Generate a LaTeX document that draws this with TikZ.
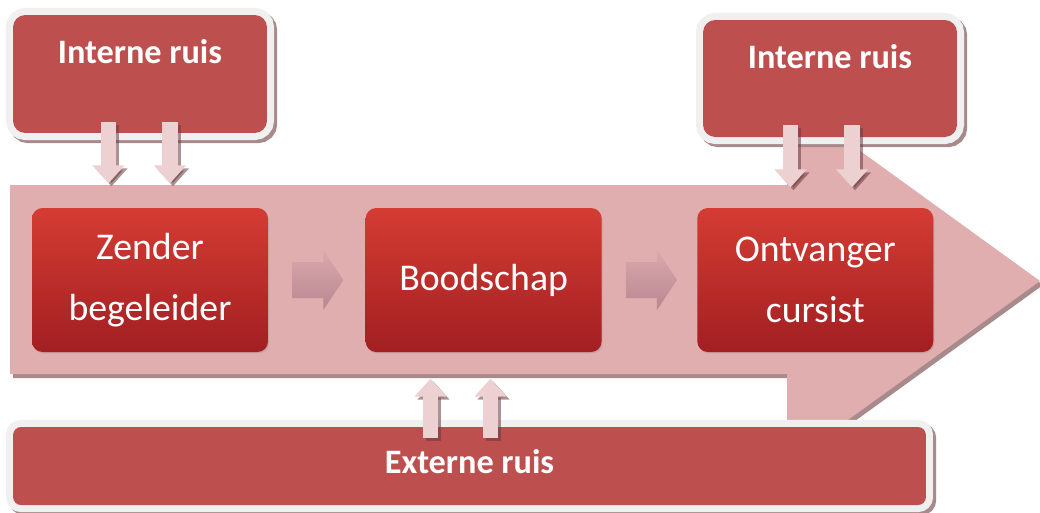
\documentclass[tikz,border=0pt]{standalone}
\usepackage{fontspec}
\setmainfont{Carlito}
\usepackage{xcolor}
\usepackage{tikz}
\usetikzlibrary{shapes,arrows,positioning,calc,shadows,arrows.meta}

\definecolor{bandpink}{HTML}{E0AEAF}
\definecolor{bandshade}{HTML}{A98A8C}
\definecolor{ruisred}{HTML}{BD4F4E}
\definecolor{rimgray}{HTML}{F0F0F0}
\definecolor{boxtop}{HTML}{D43C33}
\definecolor{boxbot}{HTML}{A21F22}
\definecolor{tippink}{HTML}{EDD0D1}
\definecolor{tipshade}{HTML}{6B3A3E}
\definecolor{flowtop}{HTML}{DAA9AD}
\definecolor{flowbot}{HTML}{B88690}

\begin{document}
\begin{tikzpicture}[x=0.02cm, y=-0.02cm,
    stage/.style={rectangle, rounded corners=6pt, top color=boxtop, bottom color=boxbot,
        text=white, align=center, minimum width=4.72cm, minimum height=2.88cm,
        font=\fontsize{21.5}{34.6}\selectfont,
        drop shadow={opacity=0.25, shadow xshift=0.6pt, shadow yshift=-0.8pt}},
    ruis/.style={rectangle, fill=ruisred, text=white, inner sep=0pt,
        font=\bfseries\fontsize{19.5}{22}\selectfont,
        preaction={draw=bandshade, line width=8pt, transform canvas={shift={(1.8pt,-1.8pt)}}},
        preaction={draw=rimgray, line width=8pt}},
    flow/.style={top color=flowtop, bottom color=flowbot},
    tip/.style={draw=tippink, line width=9pt, -{Triangle[length=10.2pt,width=17.6pt]}},
    tipshadow/.style={draw=tipshade, opacity=0.55, line width=9pt,
        -{Triangle[length=10.2pt,width=17.6pt]}, transform canvas={shift={(1.7pt,-1.7pt)}}}
]
    \fill[white] (0,0) rectangle (1040,512);
    \useasboundingbox (0,0) rectangle (1040,512);

    % big arrow in the background
    \fill[bandshade, shift={(3,4)}] (10,185) -- (787,185) -- (787,98) -- (1040,281)
        -- (787,464) -- (787,374) -- (10,374) -- cycle;
    \fill[bandpink] (10,185) -- (787,185) -- (787,98) -- (1040,281)
        -- (787,464) -- (787,374) -- (10,374) -- cycle;

    % the three stages
    \node[stage] (zender) at (150,280) {Zender\\begeleider};
    \node[stage, right=1.94cm of zender, text depth=0.12cm] (boodschap) {Boodschap};
    \node[stage, right=1.9cm of boodschap] (ontvanger) {Ontvanger\\cursist};

    % small arrows between the stages
    \shade[flow] ($(zender.east)+(24,-18)$) -- ++(31,0) -- ++(0,-12) -- ++(20,30)
        -- ++(-20,30) -- ++(0,-12) -- ++(-31,0) -- cycle;
    \shade[flow] ($(boodschap.east)+(24,-18)$) -- ++(31,0) -- ++(0,-12) -- ++(20,30)
        -- ++(-20,30) -- ++(0,-12) -- ++(-31,0) -- cycle;

    % noise boxes
    \node[ruis, rounded corners=7pt, minimum width=5.08cm, text height=0.96cm, text depth=1.40cm]
        (ruisL) at (140,74) {Interne ruis};
    \node[ruis, rounded corners=7pt, minimum width=5.08cm, text height=0.96cm, text depth=1.38cm]
        (ruisR) at (830,78.5) {Interne ruis};
    \node[ruis, rounded corners=4.5pt, minimum width=18.26cm, text height=0.92cm, text depth=0.64cm]
        (extern) at (469.5,466) {Externe ruis};

    % noise going into the process
    \foreach \dx in {-31.5,30} {
        \draw[tipshadow] ($(ruisL.south)+(\dx,-11)$) -- ++(0,61);
        \draw[tip] ($(ruisL.south)+(\dx,-11)$) -- ++(0,61);
    }
    \foreach \dx in {-39.5,22} {
        \draw[tipshadow] ($(ruisR.south)+(\dx,-12)$) -- ++(0,62);
        \draw[tip] ($(ruisR.south)+(\dx,-12)$) -- ++(0,62);
    }
    \foreach \dx in {-39,21} {
        \draw[tipshadow] ($(extern.north)+(\dx,11)$) -- ++(0,-59);
        \draw[tip] ($(extern.north)+(\dx,11)$) -- ++(0,-59);
    }
\end{tikzpicture}
\end{document}
